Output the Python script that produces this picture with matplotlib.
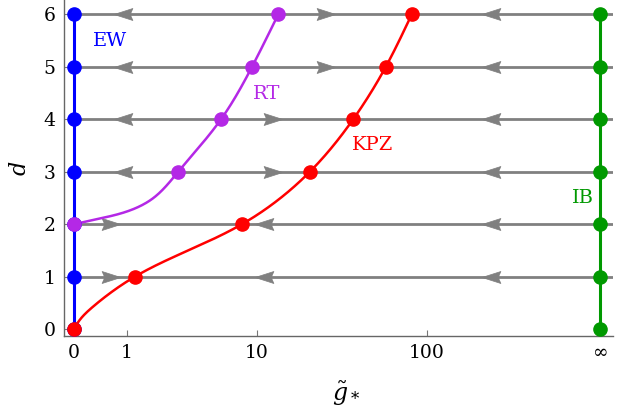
import numpy as np
import matplotlib
matplotlib.use("Agg")
import matplotlib.pyplot as plt
from matplotlib.path import Path

# fixed points: coupling g* for each dimension d
dims = [0, 1, 2, 3, 4, 5, 6]
kpz_d = [0, 1, 2, 3, 4, 5, 6]
kpz_g = [0.0, 1.22, 8.0, 20.9, 37.6, 58.1, 82.0]
rt_d = [2, 3, 4, 5, 6]
rt_g = [0.0, 2.92, 5.86, 9.29, 13.5]
ew_g = 0.0
ib_g = np.inf

# samples along the continuous curves (dots plus some points in between)
kpz_curve_d = [0, 0.177, 0.43, 1, 1.543, 2, 3, 4, 5, 6]
kpz_curve_g = [0, 0.082, 0.287, 1.22, 3.76, 8.0, 20.9, 37.6, 58.1, 82.0]
rt_curve_d = [2, 2.082, 2.24, 2.495, 3, 4, 5, 6]
rt_curve_g = [0, 0.287, 0.991, 1.82, 2.92, 5.86, 9.29, 13.5]

# flow arrows on the lines of constant d: d, g at arrow centre, direction
arrow_d = [6, 5, 4, 3, 6, 5, 4, 3, 6, 5, 4, 3, 2, 1, 2, 1, 2, 1]
arrow_g = [0.9, 0.9, 0.9, 0.9, 26.0, 26.0, 12.55, 12.55,
           234, 234, 234, 234, 234, 234, 0.637, 0.637, 10.97, 10.97]
arrow_dir = [-1, -1, -1, -1, 1, 1, 1, 1, -1, -1, -1, -1, -1, -1, 1, 1, -1, -1]

tick_g = [0, 1, 10, 100]
tick_lab = ['0', '1', '10', '100']

S_INF = 2.99  # where infinity sits on the log10(1+g) axis

BLUE = '#0000ff'
PURPLE = '#b428e6'
RED = '#ff0000'
GREEN = '#009900'
GRAY = '#808080'


def fwd(g):
    g = np.asarray(g, dtype=float)
    with np.errstate(invalid='ignore', divide='ignore', over='ignore'):
        s = np.sign(g) * np.log10(1 + np.abs(g))
    return np.where(np.isinf(g), S_INF, s)


def inv(s):
    s = np.asarray(s, dtype=float)
    return np.sign(s) * (10 ** np.abs(s) - 1)


def spline(xk, yk, xs):
    # natural cubic spline, only used to draw a smooth line through samples
    xk = np.asarray(xk, float)
    yk = np.asarray(yk, float)
    n = len(xk)
    h = np.diff(xk)
    A = np.zeros((n, n))
    r = np.zeros(n)
    A[0, 0] = A[-1, -1] = 1
    for i in range(1, n - 1):
        A[i, i - 1] = h[i - 1]
        A[i, i] = 2 * (h[i - 1] + h[i])
        A[i, i + 1] = h[i]
        r[i] = 6 * ((yk[i + 1] - yk[i]) / h[i] - (yk[i] - yk[i - 1]) / h[i - 1])
    M = np.linalg.solve(A, r)
    j = np.clip(np.searchsorted(xk, xs) - 1, 0, n - 2)
    t0 = xs - xk[j]
    t1 = xk[j + 1] - xs
    hj = h[j]
    return (M[j] * t1 ** 3 / (6 * hj) + M[j + 1] * t0 ** 3 / (6 * hj)
            + (yk[j] / hj - M[j] * hj / 6) * t1 + (yk[j + 1] / hj - M[j + 1] * hj / 6) * t0)


def smooth_curve(dk, gk):
    # parametric spline in roughly isotropic (screen-like) units
    sx = fwd(gk) * 3.35
    dk = np.asarray(dk, float)
    t = np.concatenate([[0], np.cumsum(np.hypot(np.diff(sx), np.diff(dk)))])
    tt = np.linspace(0, t[-1], 400)
    return inv(spline(t, sx, tt) / 3.35), spline(t, dk, tt)


arrow_r = Path([(1, 0), (-1, 0.64), (-0.72, 0), (-1, -0.64), (1, 0)],
               [Path.MOVETO, Path.LINETO, Path.LINETO, Path.LINETO, Path.CLOSEPOLY])
arrow_l = Path(arrow_r.vertices * [-1, 1], arrow_r.codes)

plt.rcParams['font.family'] = 'DejaVu Serif'
plt.rcParams['mathtext.fontset'] = 'dejavuserif'

fig = plt.figure(figsize=(6.36, 4.16), dpi=100)
ax = fig.add_axes([0.1006, 0.1923, 0.8632, 0.8077])
ax.set_xscale('function', functions=(fwd, inv))
ax.set_xlim(inv(-0.055), inv(3.061))
ax.set_ylim(-0.128, 6.272)

# lines of constant d with the flow arrows
ax.hlines(dims[1:], 0, ax.get_xlim()[1], color=GRAY, lw=2.0, zorder=1)
for d, g, s in zip(arrow_d, arrow_g, arrow_dir):
    ax.plot([g], [d], marker=arrow_r if s > 0 else arrow_l, ms=13.5, color=GRAY,
            mec=GRAY, mew=0.5, ls='none', zorder=2)

# fixed point lines
ax.plot([ew_g] * len(dims), dims, color=BLUE, lw=2.2, zorder=3)
ax.plot([ib_g] * len(dims), dims, color=GREEN, lw=2.2, zorder=3)
xg, yd = smooth_curve(kpz_curve_d, kpz_curve_g)
ax.plot(xg, yd, color=RED, lw=1.8, zorder=3)
xg, yd = smooth_curve(rt_curve_d, rt_curve_g)
ax.plot(xg, yd, color=PURPLE, lw=1.8, zorder=3)

ax.plot([ew_g] * len(dims), dims, 'o', color=BLUE, ms=9.5, zorder=4)
ax.plot([ib_g] * len(dims), dims, 'o', color=GREEN, ms=9.5, zorder=4)
ax.plot(rt_g, rt_d, 'o', color=PURPLE, ms=9.5, zorder=5)
ax.plot(kpz_g, kpz_d, 'o', color=RED, ms=9.5, zorder=5)

ax.text(0.6, 5.5, 'EW', color=BLUE, fontsize=14, ha='center', va='center')
ax.text(11.5, 4.48, 'RT', color=PURPLE, fontsize=14, ha='center', va='center')
ax.text(48.6, 3.51, 'KPZ', color=RED, fontsize=14, ha='center', va='center')
ax.text(774, 2.5, 'IB', color=GREEN, fontsize=14, ha='center', va='center')

ax.set_xticks(tick_g + [float(inv(S_INF))])
ax.set_xticklabels(tick_lab + ['∞'])
ax.get_xticklabels()[-1].set_fontsize(19)
ax.set_yticks(dims)
ax.minorticks_off()
ax.tick_params(direction='in', length=4.5, width=0.8, color='#777777',
               labelsize=13.5, pad=6)
for side in ['top', 'right']:
    ax.spines[side].set_visible(False)
for side in ['left', 'bottom']:
    ax.spines[side].set_color('#666666')
    ax.spines[side].set_linewidth(1.0)

ax.set_ylabel('$d$', fontsize=16)
ax.yaxis.set_label_coords(-0.06, 0.5)
ax.set_xlabel(r'$\tilde{g}_*$', fontsize=17)
ax.xaxis.set_label_coords(0.514, -0.13)

fig.savefig('out.png', dpi=100)
